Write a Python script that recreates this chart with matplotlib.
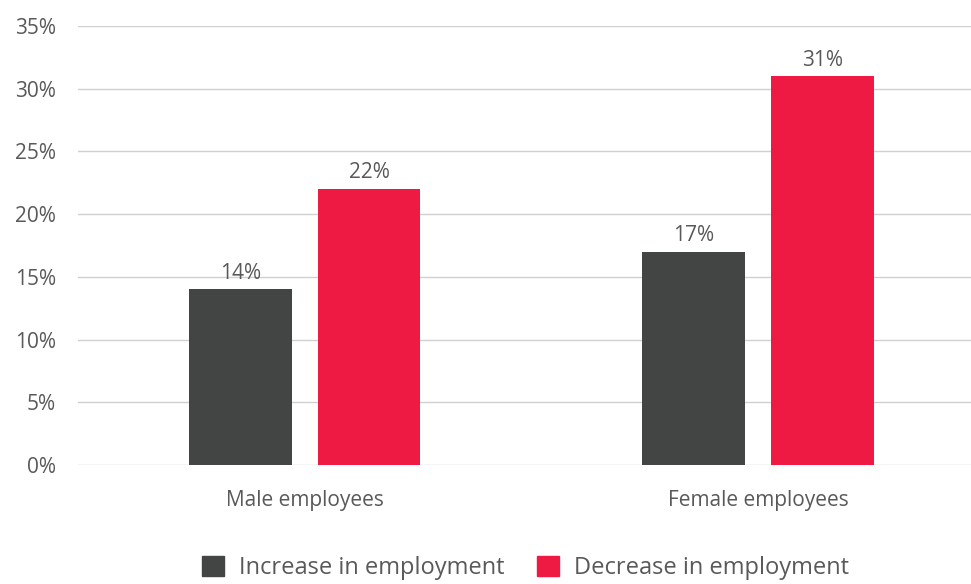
import numpy as np
import matplotlib
matplotlib.use("Agg")
import matplotlib.pyplot as plt
from matplotlib.patches import Patch

# employment change by gender
groups   = ["Male employees", "Female employees"]
increase = [14, 17]
decrease = [22, 31]
series   = ["Increase in employment", "Decrease in employment"]

GRAY = "#434544"
RED  = "#EE1A43"
TXT  = "#595959"

plt.rcParams["font.family"] = ["Open Sans", "DejaVu Sans"]

fig = plt.figure(figsize=(9.71, 5.84), dpi=100)
ax = fig.add_axes([78 / 971, 1 - 465 / 584, 893 / 971, 439 / 584])

x = np.arange(len(groups))
w = 0.227
off = 0.142
b1 = ax.bar(x - off, increase, w, color=GRAY, zorder=3)
b2 = ax.bar(x + off, decrease, w, color=RED, zorder=3)

for bars, vals in ((b1, increase), (b2, decrease)):
    for r, v in zip(bars, vals):
        ax.text(r.get_x() + r.get_width() / 2, v + 0.45, f"{v}%",
                ha="center", va="bottom", fontsize=15, color=TXT)

ax.set_ylim(0, 35)
ax.set_xlim(-0.5, 1.47)
ax.set_yticks(np.arange(0, 36, 5))
ax.set_yticklabels([f"{t}%" for t in range(0, 36, 5)])
ax.set_xticks(x)
ax.set_xticklabels(groups)
ax.grid(axis="y", color="#D0D0D0", lw=1, zorder=0)
for s in ax.spines.values():
    s.set_visible(False)
ax.tick_params(length=0, labelsize=15, labelcolor=TXT)
ax.tick_params(axis="y", pad=16)
ax.tick_params(axis="x", pad=18)

handles = [Patch(color=GRAY), Patch(color=RED)]
fig.legend(handles, series, loc="center", bbox_to_anchor=(0.541, 0.028),
           ncol=2, frameon=False, fontsize=17, labelcolor=TXT,
           handlelength=0.93, handleheight=0.93, columnspacing=1.36, handletextpad=0.64)

fig.savefig("out.png", dpi=100)
